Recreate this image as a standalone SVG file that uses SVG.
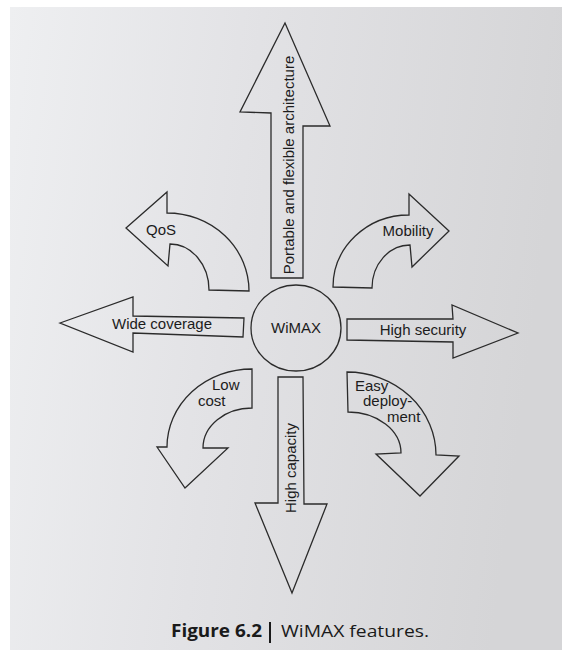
<svg xmlns="http://www.w3.org/2000/svg" width="562" height="650" viewBox="0 0 562 650">
  <defs>
    <linearGradient id="paper" x1="0" y1="0" x2="1" y2="0.15">
      <stop offset="0" stop-color="#eeeff1"/>
      <stop offset="0.45" stop-color="#e2e2e5"/>
      <stop offset="1" stop-color="#d5d5d7"/>
    </linearGradient>
  </defs>
  <style>
    .shape { fill: none; stroke: #2b2b2b; stroke-width: 1.3; stroke-linejoin: miter; }
    .lbl { font-family: "Liberation Sans", Arial, sans-serif; font-size: 15px; fill: #1c1c1c; }
    .cap { font-family: "Open Sans", "Liberation Sans", sans-serif; font-size: 17px; fill: #1a1a1a; }
  </style>

  <!-- page -->
  <rect x="0" y="0" width="562" height="650" fill="#ffffff"/>
  <rect x="10" y="7" width="552" height="643" fill="url(#paper)"/>

  <g id="features">
    <g id="wimax">
      <ellipse class="shape" cx="296" cy="328" rx="45" ry="43"/>
      <text class="lbl" x="296" y="333" text-anchor="middle">WiMAX</text>
    </g>

    <g id="portable">
      <path class="shape" d="M271,278 L271,113 L240,112 L285,23 L330,126 L303,126 L303,278 Z"/>
      <text class="lbl" font-size="14" transform="translate(294,165) rotate(-90)" text-anchor="middle">Portable and flexible architecture</text>
    </g>

    <g id="qos">
      <path class="shape" d="M126,228 L167,192 L167,213 A82,78 0 0 1 249,291 L209,290 A39,46 0 0 0 170,244 L168,266 Z"/>
      <text class="lbl" x="161" y="235" text-anchor="middle">QoS</text>
    </g>

    <g id="mobility">
      <path class="shape" d="M449,231 L409,194 L409,215 A76,72 0 0 0 333,287 L372,288 A38,43 0 0 1 410,245 L412,267 Z"/>
      <text class="lbl" x="408" y="236" text-anchor="middle">Mobility</text>
    </g>

    <g id="wide-coverage">
      <path class="shape" d="M60,323 L133,297 L133,316 L244,318 L243,337 L133,333 L133,352 Z"/>
      <text class="lbl" x="162" y="329" text-anchor="middle">Wide coverage</text>
    </g>

    <g id="high-security">
      <path class="shape" d="M347,319 L453,319 L452,305 L518,333 L453,358 L453,342 L347,340 Z"/>
      <text class="lbl" x="423" y="335" text-anchor="middle">High security</text>
    </g>

    <g id="low-cost">
      <path class="shape" d="M252,369 A85,78 0 0 0 167,447 L157,447 L185,488 L228,448 L203,448 A49,40 0 0 1 252,408 Z"/>
      <text class="lbl" x="212" y="390">Low</text>
      <text class="lbl" x="198" y="406">cost</text>
    </g>

    <g id="easy-deployment">
      <path class="shape" d="M347,372 A89,83 0 0 1 436,455 L459,456 L420,496 L376,454 L401,453 A53,41 0 0 0 348,412 Z"/>
      <text class="lbl" x="355" y="391">Easy</text>
      <text class="lbl" x="363" y="406">deploy-</text>
      <text class="lbl" x="387" y="422">ment</text>
    </g>

    <g id="high-capacity">
      <path class="shape" d="M278,377 L303,377 L304,504 L327,504 L292,593 L255,503 L278,503 Z"/>
      <text class="lbl" font-size="14" transform="translate(296,468) rotate(-90)" text-anchor="middle">High capacity</text>
    </g>
  </g>

  <!-- caption: bold figure number, rule, title -->
  <g id="caption">
    <text class="cap" x="171" y="637" font-weight="bold" textLength="91" lengthAdjust="spacingAndGlyphs">Figure 6.2</text>
    <line x1="270" y1="622" x2="270" y2="643" stroke="#1a1a1a" stroke-width="2"/>
    <text class="cap" x="281" y="637" textLength="148" lengthAdjust="spacingAndGlyphs">WiMAX features.</text>
  </g>
</svg>
